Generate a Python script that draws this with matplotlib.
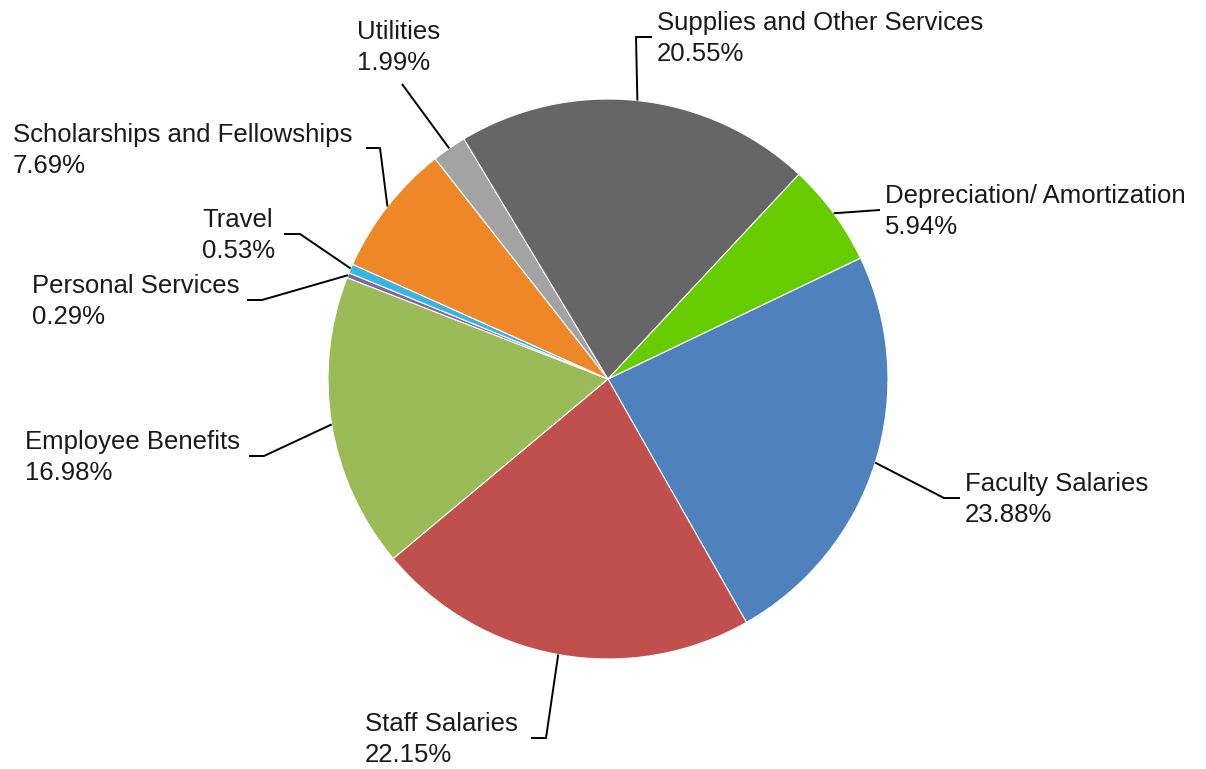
import numpy as np
import matplotlib
matplotlib.use("Agg")
import matplotlib.pyplot as plt

plt.rcParams['font.family'] = ['Liberation Sans', 'DejaVu Sans']

# data, clockwise from Faculty Salaries
categories = ["Faculty Salaries", "Staff Salaries", "Employee Benefits",
              "Personal Services", "Travel", "Scholarships and Fellowships",
              "Utilities", "Supplies and Other Services",
              "Depreciation/ Amortization"]
shares = [23.88, 22.15, 16.98, 0.29, 0.53, 7.69, 1.99, 20.55, 5.94]
colors = ["#4F81BD", "#C0504D", "#9BBB59", "#8064A2", "#38B4E2",
          "#EE8728", "#A3A3A3", "#666666", "#66CC00"]

# layout in pixels (y from top): label left/baseline, leader bends
W, H = 1206, 769
cx, cy, R = 608, 379, 280
start = 25.6
label_pos = [(965, 491), (365, 731), (25, 449), (32, 293), (202, 227),
             (13, 142), (357, 39), (657, 30), (885, 203)]
bends = [[(944, 498), (960, 498)],
         [(546, 738), (531, 738)],
         [(264, 456), (249, 456)],
         [(262, 300), (247, 300)],
         [(300, 234), (284, 234)],
         [(380, 148), (366, 148)],
         [(402, 84)],
         [(636, 37), (652, 37)],
         [(880, 210)]]

fig = plt.figure(figsize=(W / 100, H / 100), dpi=100)
ax = fig.add_axes([0, 0, 1, 1])
ax.pie(shares, colors=colors, startangle=start, counterclock=False,
       center=(cx, H - cy), radius=R, frame=False,
       wedgeprops=dict(edgecolor="white", linewidth=0.8))
ax.set_xlim(0, W)
ax.set_ylim(0, H)
ax.axis("off")

total = sum(shares)
acc = 0
for i, v in enumerate(shares):
    mid = np.deg2rad(start - 360 * (acc + v / 2) / total)
    acc += v
    x0 = cx + R * np.cos(mid)
    y0 = H - cy + R * np.sin(mid)
    xs = [x0] + [p[0] for p in bends[i]]
    ys = [y0] + [H - p[1] for p in bends[i]]
    ax.plot(xs, ys, color="black", lw=1.4, solid_capstyle="butt")
    tx, ty = label_pos[i]
    ax.text(tx, H - ty, categories[i], fontsize=18.5, color="#1a1a1a",
            ha="left", va="baseline")
    ax.text(tx, H - ty - 31, "{:.2f}%".format(v), fontsize=18.5,
            color="#1a1a1a", ha="left", va="baseline")

fig.savefig("out.png", dpi=100)
